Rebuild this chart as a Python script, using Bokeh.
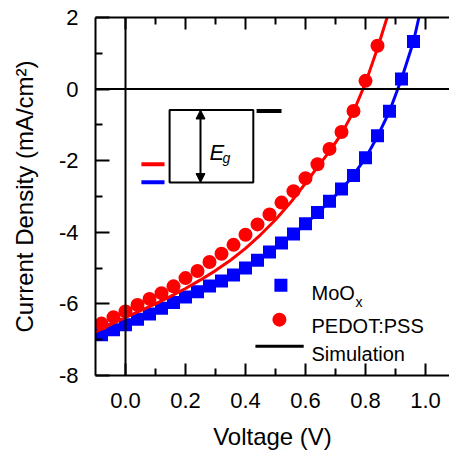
from bokeh.plotting import figure
from bokeh.models import Range1d, LinearAxis, FixedTicker, Span, Arrow, NormalHead, Label
from bokeh.embed import file_html
from bokeh.resources import INLINE

# ---------------- data ----------------
moox_v = [-0.08, -0.04, 0.00, 0.04, 0.08, 0.12, 0.16, 0.20, 0.24, 0.28, 0.32, 0.36, 0.40, 0.44,
          0.48, 0.52, 0.56, 0.60, 0.64, 0.68, 0.72, 0.76, 0.80, 0.84, 0.88, 0.92, 0.96]
moox_j = [-6.86, -6.72, -6.58, -6.43, -6.28, -6.12, -5.96, -5.81, -5.66, -5.50, -5.36, -5.19, -5.00, -4.78,
          -4.55, -4.30, -4.05, -3.76, -3.45, -3.13, -2.79, -2.41, -1.92, -1.30, -0.62, 0.28, 1.33]

pedot_v = [-0.08, -0.04, 0.00, 0.04, 0.08, 0.12, 0.16, 0.20, 0.24, 0.28, 0.32, 0.36, 0.40, 0.44,
           0.48, 0.52, 0.56, 0.60, 0.64, 0.68, 0.72, 0.76, 0.80, 0.84]
pedot_j = [-6.55, -6.37, -6.21, -6.03, -5.86, -5.70, -5.51, -5.28, -5.08, -4.83, -4.60, -4.35, -4.07, -3.78,
           -3.50, -3.17, -2.85, -2.49, -2.10, -1.67, -1.20, -0.61, 0.23, 1.21]

sim_moox_v = [-0.10, -0.05, 0.00, 0.05, 0.10, 0.15, 0.20, 0.25, 0.30, 0.35, 0.40, 0.45, 0.50, 0.55,
              0.60, 0.65, 0.70, 0.75, 0.80, 0.84, 0.88, 0.92, 0.96, 0.978]
sim_moox_j = [-6.95, -6.77, -6.60, -6.41, -6.21, -6.01, -5.81, -5.63, -5.44, -5.23, -5.01, -4.74, -4.43, -4.12,
              -3.77, -3.38, -2.97, -2.51, -1.93, -1.32, -0.62, 0.28, 1.33, 2.0]

sim_pedot_v = [-0.10, -0.05, 0.00, 0.05, 0.10, 0.15, 0.20, 0.25, 0.30, 0.35, 0.40, 0.45, 0.50, 0.55,
               0.60, 0.64, 0.68, 0.72, 0.76, 0.80, 0.84, 0.872]
sim_pedot_j = [-6.78, -6.58, -6.38, -6.19, -6.00, -5.79, -5.57, -5.33, -5.07, -4.78, -4.45, -4.07, -3.65, -3.17,
               -2.63, -2.18, -1.74, -1.25, -0.63, 0.17, 1.14, 2.0]

x_ticks = [0.0, 0.2, 0.4, 0.6, 0.8, 1.0]
x_tick_labels = ["0.0", "0.2", "0.4", "0.6", "0.8", "1.0"]
x_minor = [0.1, 0.3, 0.5, 0.7, 0.9]
y_ticks = [-8, -6, -4, -2, 0, 2]
y_tick_labels = ["-8", "-6", "-4", "-2", "0", "2"]
y_minor = [-7, -5, -3, -1, 1]

BLUE = "#0000FF"
RED = "#FF0000"
FONT = "Liberation Sans"

p = figure(width=449, height=452, x_range=Range1d(-0.1, 1.08), y_range=Range1d(-8, 2),
           output_backend="svg", toolbar_location=None,
           min_border_left=95, min_border_top=17, min_border_right=0, min_border_bottom=75)
p.outline_line_color = None
p.xgrid.visible = False
p.ygrid.visible = False
p.background_fill_color = "white"
p.border_fill_color = "white"


def style_axis(ax, tick_in_major, tick_in_minor):
    ax.axis_line_width = 2
    ax.axis_line_color = "black"
    ax.major_tick_in = tick_in_major
    ax.major_tick_out = 0
    ax.minor_tick_in = tick_in_minor
    ax.minor_tick_out = 0
    ax.major_tick_line_width = 2
    ax.minor_tick_line_width = 2
    ax.major_label_text_font = FONT
    ax.major_label_text_font_size = "22px"
    ax.major_label_text_color = "black"
    ax.axis_label_text_font = FONT
    ax.axis_label_text_font_size = "24px"
    ax.axis_label_text_font_style = "normal"
    ax.axis_label_text_color = "black"


xa = p.xaxis[0]
xa.ticker = FixedTicker(ticks=x_ticks, minor_ticks=x_minor)
xa.major_label_overrides = dict(zip(x_ticks, x_tick_labels))
style_axis(xa, 12, 7)
xa.major_label_standoff = 17
xa.axis_label = "Voltage (V)"
xa.axis_label_standoff = 12

ya = p.yaxis[0]
ya.ticker = FixedTicker(ticks=y_ticks, minor_ticks=y_minor)
ya.major_label_overrides = dict(zip(y_ticks, y_tick_labels))
style_axis(ya, 14, 7)
ya.major_label_standoff = 17
ya.axis_label = "Current Density (mA/cm\u00b2)"
ya.axis_label_standoff = 18

top = LinearAxis(ticker=FixedTicker(ticks=x_ticks, minor_ticks=x_minor))
style_axis(top, 12, 7)
top.major_label_overrides = {t: "" for t in x_ticks}
top.major_label_text_font_size = "1px"
top.major_label_standoff = 0
p.add_layout(top, "above")

# zero lines
p.add_layout(Span(location=0, dimension="height", line_color="black", line_width=2))
p.add_layout(Span(location=0, dimension="width", line_color="black", line_width=2))

# simulation lines and data
p.line(sim_moox_v, sim_moox_j, line_color=BLUE, line_width=3)
p.scatter(moox_v, moox_j, marker="square", size=13, fill_color=BLUE, line_color=BLUE, line_width=0)
p.line(sim_pedot_v, sim_pedot_j, line_color=RED, line_width=3)
p.scatter(pedot_v, pedot_j, marker="circle", size=14, fill_color=RED, line_color=RED, line_width=0)

# inset energy diagram
p.quad(left=[0.147], right=[0.426], top=[-0.583], bottom=[-2.61], fill_color=None,
       line_color="black", line_width=2)
p.segment(x0=[0.437], x1=[0.52], y0=[-0.61], y1=[-0.61], line_color="black", line_width=4)
p.segment(x0=[0.053], x1=[0.13], y0=[-2.10], y1=[-2.10], line_color=RED, line_width=4)
p.segment(x0=[0.053], x1=[0.13], y0=[-2.60], y1=[-2.60], line_color=BLUE, line_width=4)
p.add_layout(Arrow(x_start=0.25, y_start=-2.61, x_end=0.25, y_end=-0.583, line_width=2,
                   line_color="black",
                   start=NormalHead(size=9, fill_color="black", line_color="black"),
                   end=NormalHead(size=9, fill_color="black", line_color="black")))
p.add_layout(Label(x=0.28, y=-1.77, text="E", text_font=FONT, text_font_style="italic",
                   text_font_size="22px", text_baseline="alphabetic", text_color="black"))
p.add_layout(Label(x=0.323, y=-1.93, text="g", text_font=FONT, text_font_style="italic",
                   text_font_size="14px", text_baseline="alphabetic", text_color="black"))

# legend (manual, for the subscript)
p.scatter([0.518], [-5.48], marker="square", size=13, fill_color=BLUE, line_color=BLUE, line_width=0)
p.scatter([0.513], [-6.44], marker="circle", size=14, fill_color=RED, line_color=RED, line_width=0)
p.segment(x0=[0.433], x1=[0.594], y0=[-7.186], y1=[-7.186], line_color="black", line_width=3)
for (ty, txt) in [(-5.703, "MoO"), (-6.63, "PEDOT:PSS"), (-7.397, "Simulation")]:
    p.add_layout(Label(x=0.62, y=ty, text=txt, text_font=FONT, text_font_size="20px",
                       text_baseline="alphabetic", text_color="black"))
p.add_layout(Label(x=0.767, y=-5.944, text="x", text_font=FONT, text_font_size="14px",
                   text_baseline="alphabetic", text_color="black"))

open("out.html", "w").write(file_html(p, INLINE))
